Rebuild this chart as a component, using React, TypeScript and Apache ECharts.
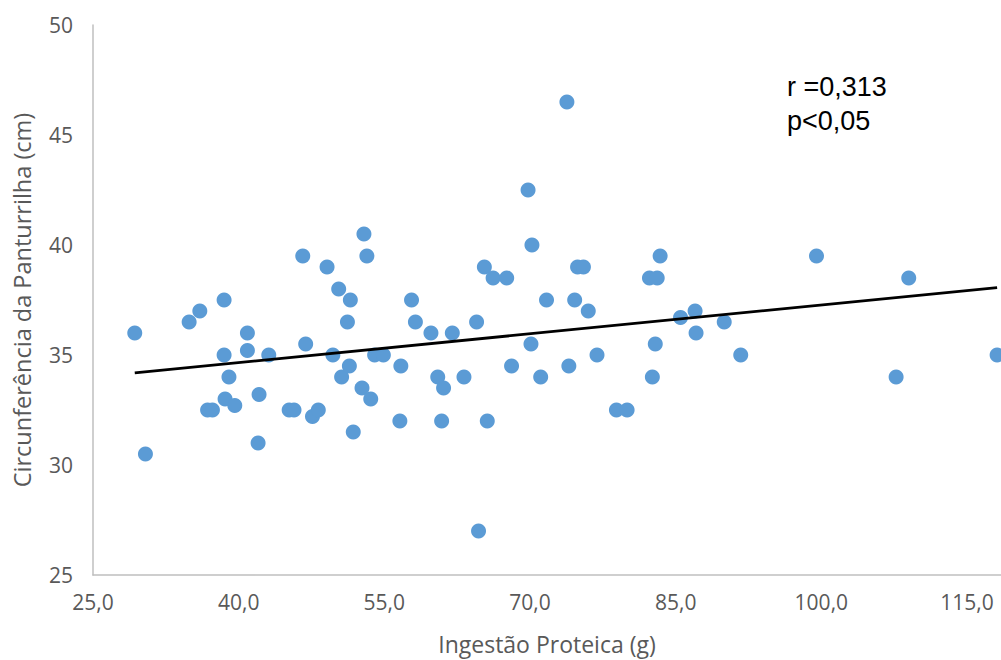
import React, { useEffect, useRef } from "react";
import * as echarts from "echarts";

const proteinIntake: number[] = [
  29.3, 30.4, 34.9, 36.0, 38.5, 40.9, 40.9, 38.5, 39.0, 43.1,
  46.9, 49.7, 36.8, 37.3, 38.6, 39.6, 42.1, 42.0, 45.2, 45.7,
  47.6, 48.2, 50.6, 46.6, 49.1, 50.3, 51.5, 51.2, 52.9, 53.2,
  54.0, 54.9, 57.8, 58.2, 59.8, 62.0, 64.5, 65.3, 66.2, 67.6,
  69.8, 70.2, 73.8, 71.7, 70.1, 74.6, 74.9, 75.5, 76.0, 76.9,
  82.3, 83.1, 83.4, 82.9, 51.4, 52.7, 53.6, 51.8, 56.7, 56.6,
  60.5, 61.1, 63.2, 60.9, 65.6, 64.7, 68.1, 71.1, 74.0, 78.9,
  80.0, 82.6, 99.5, 109.0, 85.5, 87.0, 87.1, 90.0, 91.7, 107.7,
  118.1,
];
const calfCircumference: number[] = [
  36.0, 30.5, 36.5, 37.0, 37.5, 36.0, 35.2, 35.0, 34.0, 35.0,
  35.5, 35.0, 32.5, 32.5, 33.0, 32.7, 33.2, 31.0, 32.5, 32.5,
  32.2, 32.5, 34.0, 39.5, 39.0, 38.0, 37.5, 36.5, 40.5, 39.5,
  35.0, 35.0, 37.5, 36.5, 36.0, 36.0, 36.5, 39.0, 38.5, 38.5,
  42.5, 40.0, 46.5, 37.5, 35.5, 37.5, 39.0, 39.0, 37.0, 35.0,
  38.5, 38.5, 39.5, 35.5, 34.5, 33.5, 33.0, 31.5, 34.5, 32.0,
  34.0, 33.5, 34.0, 32.0, 32.0, 27.0, 34.5, 34.0, 34.5, 32.5,
  32.5, 34.0, 39.5, 38.5, 36.7, 37.0, 36.0, 36.5, 35.0, 34.0,
  35.0,
];
const xTicks: number[] = [25, 40, 55, 70, 85, 100, 115];
const yTicks: number[] = [25, 30, 35, 40, 45, 50];
const annotationLines: string[] = ["r =0,313", "p<0,05"];
const xTitle = "Ingestão Proteica (g)";
const yTitle = "Circunferência da Panturrilha (cm)";

function regression(xs: number[], ys: number[]) {
  const n = xs.length;
  const mx = xs.reduce((a, b) => a + b, 0) / n;
  const my = ys.reduce((a, b) => a + b, 0) / n;
  let sxy = 0;
  let sxx = 0;
  for (let i = 0; i < n; i++) {
    sxy += (xs[i] - mx) * (ys[i] - my);
    sxx += (xs[i] - mx) * (xs[i] - mx);
  }
  const slope = sxy / sxx;
  return { slope, intercept: my - slope * mx };
}

export default function App() {
  const ref = useRef<HTMLDivElement>(null);
  useEffect(() => {
    if (!ref.current) return;
    const chart = echarts.init(ref.current, undefined, { renderer: "svg" });
    const points = proteinIntake.map((x, i) => [x, calfCircumference[i]]);
    const { slope, intercept } = regression(proteinIntake, calfCircumference);
    const xMin = Math.min(...proteinIntake);
    const xMax = Math.max(...proteinIntake);
    const trend = [
      [xMin, intercept + slope * xMin],
      [xMax, intercept + slope * xMax],
    ];
    const font = "'Open Sans', 'Noto Sans', sans-serif";
    chart.setOption({
      animation: false,
      backgroundColor: "#ffffff",
      grid: {
        left: 93,
        top: 25,
        right: 0,
        bottom: 85,
        containLabel: false,
        outerBoundsMode: "none",
      },
      xAxis: {
        type: "value",
        min: xTicks[0],
        max: 118.5,
        interval: 15,
        name: xTitle,
        nameLocation: "middle",
        nameGap: 57,
        nameTextStyle: { color: "#595959", fontSize: 23, fontFamily: font },
        axisLine: { show: true, lineStyle: { color: "#BFBFBF", width: 1.5 } },
        axisTick: { show: false },
        splitLine: { show: false },
        axisLabel: {
          color: "#595959",
          fontSize: 21,
          fontFamily: font,
          margin: 16,
          showMaxLabel: false,
          formatter: (v: number) =>
            xTicks.includes(v) ? v.toFixed(1).replace(".", ",") : "",
        },
      },
      yAxis: {
        type: "value",
        min: yTicks[0],
        max: yTicks[yTicks.length - 1],
        interval: 5,
        name: yTitle,
        nameLocation: "middle",
        nameGap: 59,
        nameTextStyle: { color: "#595959", fontSize: 23.5, fontFamily: font },
        axisLine: { show: true, lineStyle: { color: "#BFBFBF", width: 1.5 } },
        axisTick: { show: false },
        splitLine: { show: false },
        axisLabel: {
          color: "#595959",
          fontSize: 21,
          fontFamily: font,
          margin: 20,
        },
      },
      series: [
        {
          type: "scatter",
          data: points,
          symbol: "circle",
          symbolSize: 15,
          itemStyle: { color: "#5B9BD5", opacity: 1 },
          clip: false,
          z: 2,
        },
        {
          type: "line",
          data: trend,
          symbol: "none",
          lineStyle: { color: "#000000", width: 2.8 },
          z: 3,
        },
      ],
      graphic: [
        {
          type: "text",
          left: 787,
          top: 70,
          style: {
            text: annotationLines.join("\n"),
            font: "27px 'Liberation Sans', Arial, sans-serif",
            fill: "#000000",
            lineHeight: 34,
          },
        },
      ],
    });
    return () => chart.dispose();
  }, []);
  return (
    <div
      ref={ref}
      style={{ position: "fixed", left: 0, top: 0, width: 1001, height: 660 }}
    />
  );
}
